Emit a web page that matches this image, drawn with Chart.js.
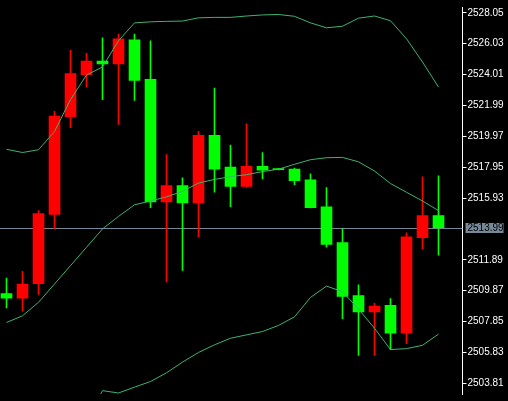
<!DOCTYPE html>
<html lang="en">
<head>
<meta charset="UTF-8">
<title>Candles</title>
<script src="https://cdn.jsdelivr.net/npm/chart.js"></script>
<style>
    body {
        margin: 0;
        background: #000;
    }
    .chart-box {
        position: relative;
        width: 508px;
        height: 401px;
    }
</style>
</head>
<body>
<div class="chart-box"><canvas id="candleChart"></canvas></div>
<script>
    // candles, oldest first
    const opens  = [2509.68, 2509.38, 2510.33, 2514.86, 2521.25, 2524.01, 2524.89, 2524.70, 2526.28, 2523.69, 2515.68, 2516.75, 2515.61, 2520.03, 2517.95, 2516.69, 2518.01, 2517.84, 2517.82, 2517.13, 2515.36, 2513.02, 2509.55, 2508.48, 2508.92, 2507.09, 2513.34, 2514.79];
    const highs  = [2510.69, 2511.13, 2515.11, 2521.61, 2525.59, 2525.40, 2526.41, 2526.66, 2526.66, 2526.22, 2518.77, 2517.25, 2520.29, 2523.13, 2519.40, 2520.79, 2518.90, 2517.86, 2517.89, 2517.51, 2516.62, 2513.91, 2510.25, 2509.05, 2509.36, 2513.66, 2517.32, 2517.38];
    const lows   = [2508.75, 2508.54, 2509.63, 2513.93, 2520.54, 2523.19, 2522.37, 2520.75, 2522.31, 2515.30, 2510.44, 2511.19, 2513.40, 2516.31, 2515.36, 2516.62, 2517.19, 2517.77, 2516.81, 2515.28, 2512.71, 2508.04, 2505.64, 2505.64, 2506.02, 2506.40, 2512.58, 2512.20];
    const closes = [2509.38, 2510.31, 2514.92, 2521.30, 2524.07, 2524.89, 2524.70, 2526.35, 2523.63, 2515.68, 2516.75, 2515.61, 2520.03, 2517.82, 2516.69, 2518.01, 2517.76, 2517.79, 2517.07, 2515.30, 2512.90, 2509.49, 2508.48, 2508.86, 2507.09, 2513.40, 2514.79, 2513.99];

    // bollinger bands
    const upperBand  = [2519.12, 2518.91, 2519.09, 2520.29, 2522.37, 2523.98, 2524.51, 2526.22, 2527.39, 2527.46, 2527.49, 2527.51, 2527.72, 2527.75, 2527.75, 2527.84, 2527.91, 2527.94, 2527.82, 2527.39, 2527.07, 2527.17, 2527.70, 2527.84, 2527.53, 2526.35, 2524.83, 2523.19];
    const middleBand = [2507.79, 2508.23, 2509.11, 2510.31, 2511.51, 2512.71, 2513.91, 2514.73, 2515.49, 2515.74, 2516.01, 2516.37, 2516.91, 2517.15, 2517.33, 2517.46, 2517.66, 2517.82, 2518.14, 2518.44, 2518.57, 2518.59, 2518.30, 2517.70, 2516.88, 2516.31, 2515.74, 2515.11];
    const lowerBand  = [2496.48, 2497.56, 2499.14, 2500.34, 2500.65, 2501.41, 2503.33, 2503.18, 2503.56, 2503.93, 2504.50, 2505.20, 2505.83, 2506.33, 2506.76, 2506.98, 2507.20, 2507.60, 2508.16, 2509.43, 2510.17, 2509.81, 2508.67, 2507.41, 2506.02, 2506.08, 2506.30, 2507.03];

    const priceTicks = [2528.05, 2526.03, 2524.01, 2521.99, 2519.97, 2517.95, 2515.93, 2511.89, 2509.87, 2507.85, 2505.83, 2503.81];
    const lastPrice = 2513.99;

    const upColor = '#ff0000';
    const downColor = '#00ff00';
    const bandColor = '#3cb371';
    const lineColor = '#778899';

    const candleColors = opens.map((o, i) => closes[i] > o ? upColor : downColor);

    const bodies = opens.map((o, i) => ({x: i, y: [o, closes[i]]}));
    const wicks = lows.map((l, i) => ({x: i, y: [l, highs[i]]}));
    const toPoints = arr => arr.map((v, i) => ({x: i, y: v}));

    // current price line + label on the axis
    const priceLine = {
        id: 'priceLine',
        beforeDatasetsDraw(chart) {
            const {ctx, chartArea, scales} = chart;
            const y = Math.round(scales.y.getPixelForValue(lastPrice)) + 0.5;
            ctx.save();
            ctx.strokeStyle = lineColor;
            ctx.lineWidth = 1;
            ctx.beginPath();
            ctx.moveTo(chartArea.left, y);
            ctx.lineTo(chartArea.right, y);
            ctx.stroke();
            ctx.restore();
        },
        afterDraw(chart) {
            const {ctx, scales} = chart;
            const y = Math.round(scales.y.getPixelForValue(lastPrice));
            const x = scales.y.left + 3;
            ctx.save();
            ctx.fillStyle = lineColor;
            ctx.fillRect(x, y - 5, 38, 10);
            ctx.fillStyle = '#000';
            ctx.font = '10px "Liberation Sans"';
            ctx.textBaseline = 'middle';
            ctx.fillText(lastPrice.toFixed(2), x + 2, y + 0.5);
            ctx.restore();
        }
    };

    new Chart(document.getElementById('candleChart'), {
        type: 'bar',
        data: {
            datasets: [
                {type: 'line', data: toPoints(upperBand), borderColor: bandColor, borderWidth: 1, pointRadius: 0, order: 0},
                {type: 'line', data: toPoints(middleBand), borderColor: bandColor, borderWidth: 1, pointRadius: 0, order: 0},
                {type: 'line', data: toPoints(lowerBand), borderColor: bandColor, borderWidth: 1, pointRadius: 0, order: 0},
                {data: bodies, backgroundColor: candleColors, barThickness: 11, grouped: false, minBarLength: 1, order: 1},
                {data: wicks, backgroundColor: candleColors, barThickness: 1, grouped: false, order: 2}
            ]
        },
        options: {
            responsive: true,
            maintainAspectRatio: false,
            animation: false,
            layout: {padding: 0, autoPadding: false},
            plugins: {
                legend: {display: false},
                tooltip: {enabled: false}
            },
            scales: {
                x: {
                    type: 'linear',
                    offset: false,
                    min: -0.40625,
                    max: 28.5,
                    display: false
                },
                y: {
                    position: 'right',
                    min: 2503.113,
                    max: 2528.429,
                    afterBuildTicks: scale => {
                        scale.ticks = priceTicks.map(v => ({value: v}));
                    },
                    afterFit: scale => {
                        scale.width = 45.5;
                    },
                    grid: {
                        drawOnChartArea: false,
                        drawTicks: true,
                        tickLength: 4,
                        color: '#ffffff'
                    },
                    border: {display: true, color: '#ffffff'},
                    ticks: {
                        color: '#ffffff',
                        padding: 1,
                        font: {family: 'Liberation Sans', size: 10},
                        callback: v => v.toFixed(2)
                    }
                }
            }
        },
        plugins: [priceLine]
    });
</script>
</body>
</html>
